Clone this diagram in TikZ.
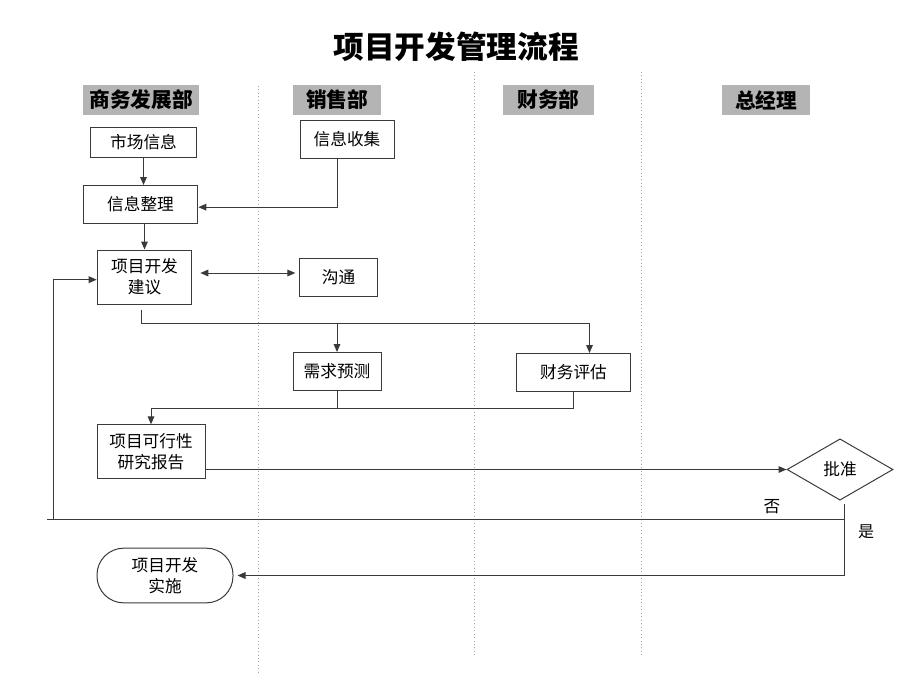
\documentclass[tikz,border=0pt]{standalone}
\usepackage{fontspec}
\setmainfont{Noto Sans CJK SC}
\usetikzlibrary{shapes.geometric,arrows.meta}
\definecolor{headgray}{HTML}{B4B4B4}
\definecolor{linegray}{HTML}{3A3A3A}

\begin{document}
\begin{tikzpicture}[x=0.75pt, y=-0.75pt,
    box/.style={draw=linegray, line width=0.75pt, align=center, inner sep=1pt,
      font=\fontsize{12.5}{15.5}\selectfont},
    head/.style={fill=headgray, minimum height=23pt, inner sep=0pt,
      font=\fontsize{15.5}{18}\selectfont\bfseries},
    lane/.style={gray!70, line width=0.6pt, dotted},
    link/.style={draw=linegray, line width=0.75pt},
    arr/.style={link, -{Triangle[length=6pt,width=5pt]}},
    both/.style={link, {Triangle[length=6pt,width=5pt]}-{Triangle[length=6pt,width=5pt]}}]

      \useasboundingbox (0,0) rectangle (920,690);

      \node[font=\fontsize{23}{27}\selectfont\bfseries] (title) at (456,47) {项目开发管理流程};

      \foreach \x/\top/\bot in {258/86/672, 474/72/657, 641/72/657}
        \draw[lane] (\x,\top) -- (\x,\bot);

      \node[head, minimum width=87pt] (hbiz) at (141,100) {商务发展部};
      \node[head, minimum width=66pt] (hsale) at (337,100) {销售部};
      \node[head, minimum width=68pt] (hfin) at (548.5,100) {财务部};
      \node[head, minimum width=66pt] (hgm) at (766,100) {总经理};

      \node[box, minimum width=80pt, minimum height=23pt] (market) at (143.5,142.5) {市场信息};
      \node[box, minimum width=70.5pt, minimum height=28.5pt] (collect) at (347,139) {信息收集};
      \node[box, minimum width=86pt, minimum height=28.5pt] (sort) at (140.5,204.5) {信息整理};
      \node[box, minimum width=71pt, minimum height=40.5pt] (propose) at (144.5,277) {项目开发\\建议};
      \node[box, minimum width=58pt, minimum height=28.5pt] (talk) at (338.5,277) {沟通};
      \node[box, minimum width=66pt, minimum height=28.5pt] (demand) at (337,371.5) {需求预测};
      \node[box, minimum width=85pt, minimum height=28.5pt] (assess) at (573.5,372.5) {财务评估};
      \node[box, minimum width=81pt, minimum height=40pt] (report) at (151,451.5) {项目可行性\\研究报告};
      \node[box, shape=diamond, aspect=1.74, minimum width=79.5pt, minimum height=46pt,
        inner sep=0pt] (approve) at (840,469.5) {批准};
      \node[box, rounded corners=20pt, minimum width=102pt, minimum height=41pt] (launch) at (165,575.5) {项目开发\\实施};

      \coordinate (split) at (141,323);
      \coordinate (merge) at (151,408);
      \coordinate (yes) at (844,504);
      \coordinate (bend) at (844,519);
      \coordinate (loop) at (53,519);
      \coordinate (stub) at (47,519);

      \draw[arr] (market.south) -- (market.south |- sort.north);
      \draw[arr] ([xshift=-7.5pt]collect.south) |- ([yshift=-2pt]sort.east);
      \draw[arr] (sort.south -| propose.north) -- (propose.north);
      \draw[both] ([xshift=6pt,yshift=3pt]propose.east) -- ([xshift=-3pt,yshift=3pt]talk.west);

      \draw[link] ([yshift=-4pt]propose.south -| split) -- (split);
      \draw[arr] (split) -| ([xshift=12pt]assess.north);
      \draw[arr] (split -| demand.north) -- (demand.north);

      \draw[link] (demand.south) |- (merge);
      \draw[link] (assess.south) |- (merge);
      \draw[arr] (merge) -- (report.north);

      \draw[arr] (report.east |- approve.west) -- (approve.west);

      \draw[link] (yes) -- (bend) -- (stub);
      \draw[arr] (loop) |- ([yshift=-2pt]propose.west);
      \draw[arr] (bend) |- ([xshift=3pt]launch.east);

      \node[font=\fontsize{12.5}{15}\selectfont] (no) at (772,507) {否};
      \node[font=\fontsize{12}{15}\selectfont] (yeslabel) at (866,532) {是};

    \end{tikzpicture}
\end{document}
